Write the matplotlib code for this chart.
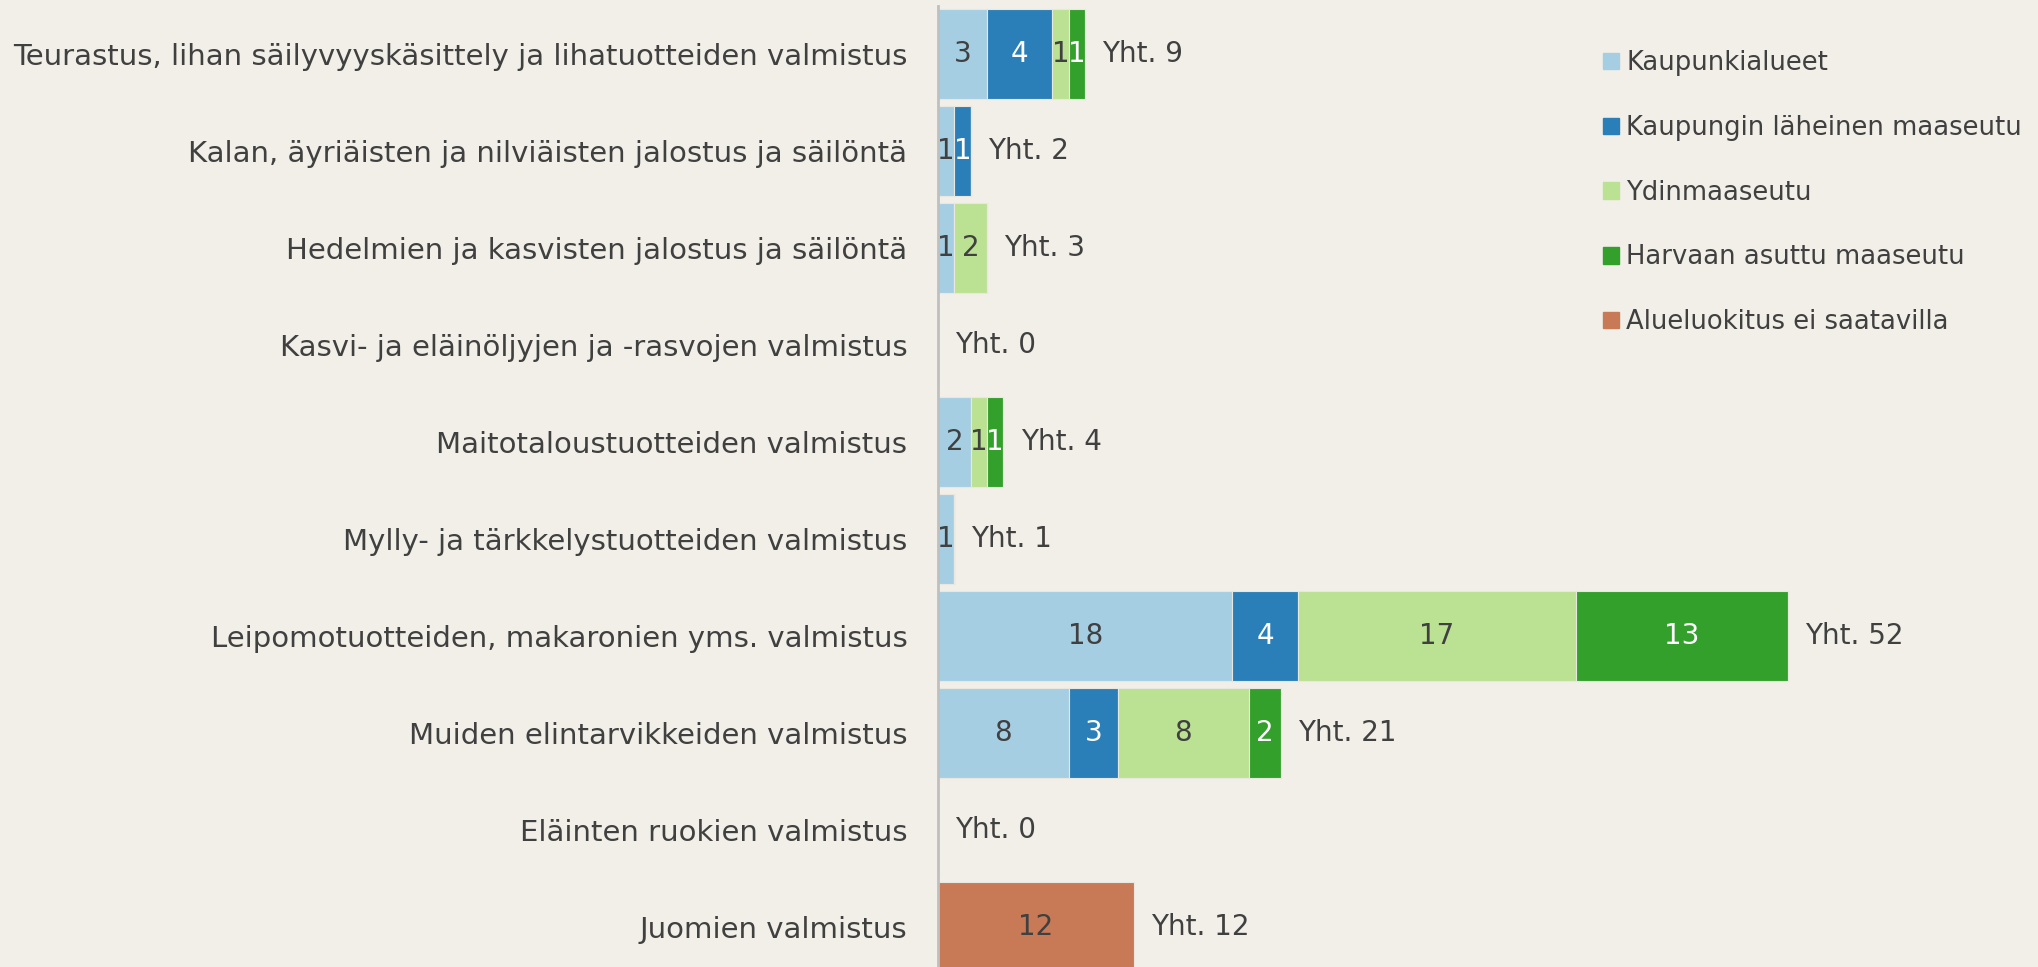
import numpy as np
import matplotlib.pyplot as plt
from matplotlib.patches import Patch

# Data
categories = [
    "Teurastus, lihan säilyvyyskäsittely ja lihatuotteiden valmistus",
    "Kalan, äyriäisten ja nilviäisten jalostus ja säilöntä",
    "Hedelmien ja kasvisten jalostus ja säilöntä",
    "Kasvi- ja eläinöljyjen ja -rasvojen valmistus",
    "Maitotaloustuotteiden valmistus",
    "Mylly- ja tärkkelystuotteiden valmistus",
    "Leipomotuotteiden, makaronien yms. valmistus",
    "Muiden elintarvikkeiden valmistus",
    "Eläinten ruokien valmistus",
    "Juomien valmistus",
]
series_names = [
    "Kaupunkialueet",
    "Kaupungin läheinen maaseutu",
    "Ydinmaaseutu",
    "Harvaan asuttu maaseutu",
    "Alueluokitus ei saatavilla",
]
kaupunki = [3, 1, 1, 0, 2, 1, 18, 8, 0, 0]
lahimaaseutu = [4, 1, 0, 0, 0, 0, 4, 3, 0, 0]
ydinmaaseutu = [1, 0, 2, 0, 1, 0, 17, 8, 0, 0]
harvaan = [1, 0, 0, 0, 1, 0, 13, 2, 0, 0]
ei_tietoa = [0, 0, 0, 0, 0, 0, 0, 0, 0, 12]

series = [kaupunki, lahimaaseutu, ydinmaaseutu, harvaan, ei_tietoa]
colors = ["#a6cee3", "#2b7fb8", "#bbe192", "#33a02c", "#c87a56"]
label_colors = ["#404040", "white", "#404040", "white", "#404040"]

bg = "#f1efe7"
txt = "#404040"
plt.rcParams['font.family'] = ['DejaVu Sans']

W, H = 2038, 967
fig = plt.figure(figsize=(W / 100, H / 100), dpi=100, facecolor=bg)
ax = fig.add_axes([938 / W, 0, 1 - 938 / W, 961 / H])
ax.set_facecolor(bg)

y = np.arange(len(categories))
left = np.zeros(len(categories))
for vals, col, lc, name in zip(series, colors, label_colors, series_names):
    vals = np.array(vals, dtype=float)
    ax.barh(y, vals, left=left, height=0.93, color=col,
            edgecolor="#e8e8e0", linewidth=0.8, label=name)
    for yi, v, l in zip(y, vals, left):
        if v > 0:
            ax.text(l + v / 2, yi, f"{int(v)}", ha="center", va="center",
                    fontsize=20, color=lc)
    left += vals

for yi, tot in zip(y, left):
    ax.text(tot + 1.05, yi, f"Yht. {int(tot)}", ha="left", va="center",
            fontsize=20, color=txt)

ax.set_xlim(0, (W - 938) / 16.35)
ax.set_ylim(9.41, -0.495)
ax.set_yticks(y)
ax.set_yticklabels(categories, fontsize=21, color=txt)
ax.tick_params(axis="y", length=0, pad=22)
ax.set_xticks([])
for s in ["top", "right", "bottom"]:
    ax.spines[s].set_visible(False)
ax.spines["left"].set_color("#bfbfbf")
ax.spines["left"].set_linewidth(2)

handles = [Patch(color=c, label=n) for c, n in zip(colors, series_names)]
fig.legend(handles=handles, loc="upper left",
           bbox_to_anchor=(1580 / W, 1 - 27 / H),
           frameon=False, fontsize=18.6, labelcolor=txt,
           handlelength=0.6, handleheight=0.6, handletextpad=0.3,
           labelspacing=1.5)

fig.savefig("out.png", dpi=100, facecolor=bg)
